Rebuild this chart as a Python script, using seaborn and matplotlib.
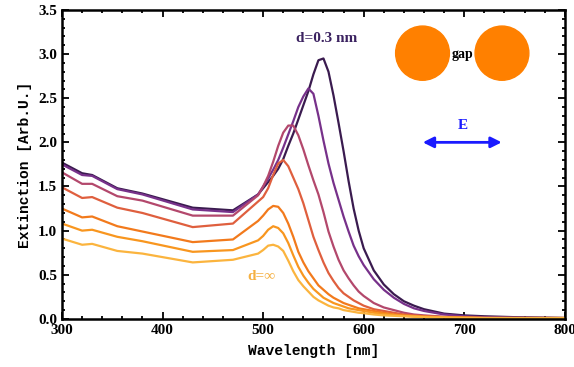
import numpy as np
import pandas as pd
import matplotlib
matplotlib.use("Agg")
import matplotlib.pyplot as plt
from matplotlib.patches import Ellipse
import seaborn as sns

wavelength = [300, 320, 330, 355, 380, 430, 470, 495,
              500, 505, 510, 515, 520, 525, 530, 535, 540, 545, 550,
              555, 560, 565, 570, 575, 580, 585, 590, 595, 600,
              610, 620, 630, 640, 650, 660, 680, 700, 720, 750, 800]

ext_d03 = [1.77, 1.65, 1.63, 1.48, 1.42, 1.26, 1.23, 1.41,
           1.48, 1.55, 1.62, 1.70, 1.81, 1.96, 2.10, 2.26, 2.42, 2.58, 2.77,
           2.93, 2.95, 2.80, 2.53, 2.22, 1.90, 1.56, 1.25, 1.00, 0.80,
           0.55, 0.39, 0.28, 0.20, 0.15, 0.11, 0.06, 0.04, 0.03, 0.02, 0.01]
ext_2 = [1.75, 1.63, 1.62, 1.47, 1.41, 1.24, 1.21, 1.41,
         1.50, 1.59, 1.69, 1.80, 1.94, 2.09, 2.24, 2.40, 2.52, 2.61, 2.55,
         2.30, 2.02, 1.76, 1.54, 1.35, 1.16, 0.99, 0.83, 0.71, 0.61,
         0.45, 0.33, 0.24, 0.17, 0.12, 0.09, 0.05, 0.03, 0.02, 0.015, 0.01]
ext_3 = [1.66, 1.53, 1.53, 1.39, 1.34, 1.17, 1.17, 1.40,
         1.50, 1.62, 1.78, 1.96, 2.11, 2.19, 2.19, 2.08, 1.92, 1.74, 1.57,
         1.41, 1.21, 0.99, 0.82, 0.67, 0.55, 0.46, 0.38, 0.31, 0.26,
         0.18, 0.13, 0.10, 0.07, 0.05, 0.04, 0.025, 0.02, 0.015, 0.01, 0.01]
ext_4 = [1.49, 1.37, 1.38, 1.26, 1.20, 1.04, 1.08, 1.33,
         1.38, 1.48, 1.63, 1.76, 1.80, 1.73, 1.60, 1.47, 1.31, 1.12, 0.93,
         0.78, 0.64, 0.52, 0.43, 0.35, 0.29, 0.25, 0.21, 0.18, 0.15,
         0.11, 0.09, 0.07, 0.05, 0.04, 0.03, 0.02, 0.015, 0.01, 0.01, 0.01]
ext_5 = [1.25, 1.15, 1.16, 1.05, 0.99, 0.87, 0.90, 1.11,
         1.17, 1.24, 1.28, 1.27, 1.20, 1.08, 0.93, 0.76, 0.64, 0.54, 0.46,
         0.38, 0.33, 0.28, 0.24, 0.21, 0.18, 0.16, 0.14, 0.12, 0.11,
         0.09, 0.07, 0.05, 0.04, 0.03, 0.025, 0.02, 0.015, 0.01, 0.01, 0.01]
ext_6 = [1.08, 1.00, 1.01, 0.93, 0.88, 0.76, 0.78, 0.89,
         0.94, 1.01, 1.05, 1.03, 0.97, 0.86, 0.72, 0.59, 0.49, 0.41, 0.34,
         0.29, 0.24, 0.21, 0.18, 0.16, 0.14, 0.12, 0.11, 0.10, 0.09,
         0.07, 0.055, 0.045, 0.035, 0.03, 0.025, 0.02, 0.015, 0.01, 0.01, 0.01]
ext_inf = [0.91, 0.84, 0.85, 0.77, 0.74, 0.64, 0.67, 0.74,
           0.78, 0.83, 0.84, 0.82, 0.77, 0.66, 0.54, 0.44, 0.37, 0.31, 0.25,
           0.21, 0.18, 0.15, 0.13, 0.12, 0.10, 0.09, 0.08, 0.07, 0.065,
           0.05, 0.04, 0.035, 0.03, 0.025, 0.02, 0.015, 0.01, 0.01, 0.01, 0.01]

series_names = ["d=0.3 nm", "s2", "s3", "s4", "s5", "s6", "d=inf"]
series_values = [ext_d03, ext_2, ext_3, ext_4, ext_5, ext_6, ext_inf]
colors = ["#3a1b4f", "#77318a", "#b3486c", "#df5f3e", "#f27a1c", "#f8961f", "#fbb43e"]

df = pd.concat([pd.DataFrame({"wl": wavelength, "ext": v, "gap": n})
                for n, v in zip(series_names, series_values)], ignore_index=True)

fig = plt.figure(figsize=(5.74, 3.67), dpi=100)
ax = fig.add_axes([0.108, 0.131, 0.876, 0.842])
sns.lineplot(data=df, x="wl", y="ext", hue="gap", palette=colors, estimator=None,
             linewidth=1.6, legend=False, ax=ax)

ax.set_xlim(300, 800)
ax.set_ylim(0, 3.5)
ax.set_xticks([300, 400, 500, 600, 700, 800])
ax.set_xticks(np.arange(300, 801, 20), minor=True)
ax.set_yticks([0, 0.5, 1.0, 1.5, 2.0, 2.5, 3.0, 3.5])
ax.set_yticks(np.arange(0, 3.51, 0.1), minor=True)
ax.set_xticklabels(["300", "400", "500", "600", "700", "800"])
ax.set_yticklabels(["0.0", "0.5", "1.0", "1.5", "2.0", "2.5", "3.0", "3.5"])
ax.tick_params(which="both", direction="in", top=True, right=True, width=1.3)
ax.tick_params(which="major", length=5, labelsize=11)
ax.tick_params(which="minor", length=2.5)
for lab in ax.get_xticklabels() + ax.get_yticklabels():
    lab.set_fontfamily("Liberation Serif")
    lab.set_fontweight("bold")
for s in ax.spines.values():
    s.set_linewidth(1.8)
    s.set_color("black")

ax.set_xlabel("Wavelength [nm]", fontfamily="Liberation Mono", fontweight="bold", fontsize=10.5, labelpad=5)
ax.set_ylabel("Extinction [Arb.U.]", fontfamily="Liberation Mono", fontweight="bold", fontsize=10.5, labelpad=4)

ax.text(563, 3.18, "d=0.3 nm", color="#3b2260", fontfamily="Liberation Serif", fontweight="bold",
        fontsize=11, ha="center", va="center")
ax.text(498, 0.48, "d=∞", color="#f5b041", fontfamily="Liberation Serif", fontweight="bold",
        fontsize=11, ha="center", va="center")

ax.add_patch(Ellipse((658.5, 3.01), 53.5, 0.614, color="#ff8000", zorder=3))
ax.add_patch(Ellipse((737.5, 3.01), 53.5, 0.614, color="#ff8000", zorder=3))
ax.text(698, 2.99, "gap", color="black", fontfamily="Liberation Serif", fontweight="bold",
        fontsize=10, ha="center", va="center", zorder=4)

ax.annotate("", xy=(740, 2.0), xytext=(656, 2.0),
            arrowprops=dict(arrowstyle="<|-|>", color="#1a1aff", lw=2, mutation_scale=16))
ax.text(699, 2.19, "E", color="#1a1aff", fontfamily="Liberation Serif", fontweight="bold",
        fontsize=11, ha="center", va="center")

fig.savefig("out.png", dpi=100)
